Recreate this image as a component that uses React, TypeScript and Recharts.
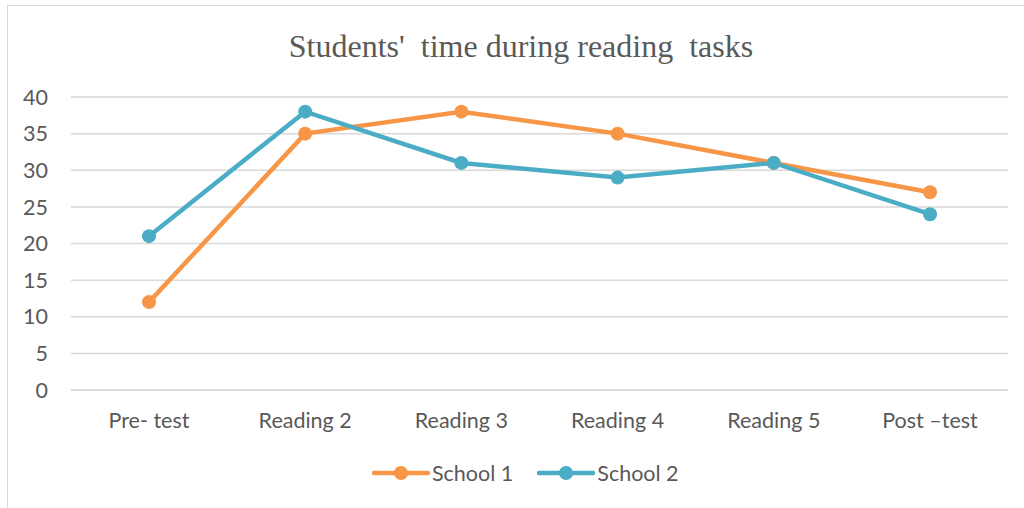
import { LineChart, Line, XAxis, YAxis, CartesianGrid } from "recharts";

const categories = ["Pre- test", "Reading 2", "Reading 3", "Reading 4", "Reading 5", "Post \u2013test"];
const school1 = [12, 35, 38, 35, 31, 27];
const school2 = [21, 38, 31, 29, 31, 24];
const yTicks = [0, 5, 10, 15, 20, 25, 30, 35, 40];

const seriesInfo = [
  { key: "s1", name: "School 1", color: "#F79646" },
  { key: "s2", name: "School 2", color: "#4BACC6" },
];

const data = categories.map((c, i) => ({ name: c, s1: school1[i], s2: school2[i] }));

const textColor = "#595959";
const font = "Lato, 'Open Sans', sans-serif";

export default function App() {
  return (
    <div
      style={{
        position: "absolute",
        left: 0,
        top: 0,
        width: 1024,
        height: 508,
        background: "#fff",
        overflow: "hidden",
      }}
    >
      <div
        style={{
          position: "absolute",
          left: 7,
          top: 5,
          width: 1040,
          height: 520,
          border: "1.5px solid #d9d9d9",
        }}
      />
      <div
        style={{
          position: "absolute",
          left: 0,
          top: 26,
          width: 1042,
          textAlign: "center",
          fontFamily: "'Liberation Serif', 'Times New Roman', serif",
          fontSize: 32,
          color: textColor,
          whiteSpace: "pre",
          lineHeight: "40px",
        }}
      >
        Students'  time during reading  tasks
      </div>
      <LineChart
        width={1024}
        height={508}
        data={data}
        margin={{ top: 97, right: 16, left: 21, bottom: 88 }}
        style={{ position: "absolute", left: 0, top: 0 }}
      >
        <CartesianGrid vertical={false} stroke="#d9d9d9" strokeWidth={1.5} />
        <XAxis
          dataKey="name"
          height={30}
          padding={{ left: 78, right: 78 }}
          tickLine={false}
          axisLine={{ stroke: "#d9d9d9", strokeWidth: 1.5 }}
          tickSize={0}
          tickMargin={23}
          tick={{ fontSize: 21.5, fill: textColor, fontFamily: font }}
          interval={0}
        />
        <YAxis
          width={50}
          domain={[0, 40]}
          ticks={yTicks}
          tickLine={false}
          axisLine={false}
          tickSize={0}
          tickMargin={23}
          tick={{ fontSize: 21.5, fill: textColor, fontFamily: font }}
        />
        {seriesInfo.map((s) => (
          <Line
            key={s.key}
            dataKey={s.key}
            name={s.name}
            stroke={s.color}
            strokeWidth={4.5}
            dot={{ r: 7, fill: s.color, stroke: s.color, strokeWidth: 0 }}
            activeDot={false}
            isAnimationActive={false}
          />
        ))}
      </LineChart>
      <div
        style={{
          position: "absolute",
          left: 372,
          top: 459,
          display: "flex",
          alignItems: "center",
          fontFamily: font,
          fontSize: 21.5,
          color: textColor,
        }}
      >
        {seriesInfo.map((s, i) => (
          <div key={s.key} style={{ display: "flex", alignItems: "center", marginLeft: i ? 24 : 0 }}>
            <svg width={58} height={20}>
              <line x1={2} y1={10} x2={56} y2={10} stroke={s.color} strokeWidth={4.5} strokeLinecap="round" />
              <circle cx={29} cy={10} r={7} fill={s.color} />
            </svg>
            <span style={{ marginLeft: 2, lineHeight: "28px" }}>{s.name}</span>
          </div>
        ))}
      </div>
    </div>
  );
}
